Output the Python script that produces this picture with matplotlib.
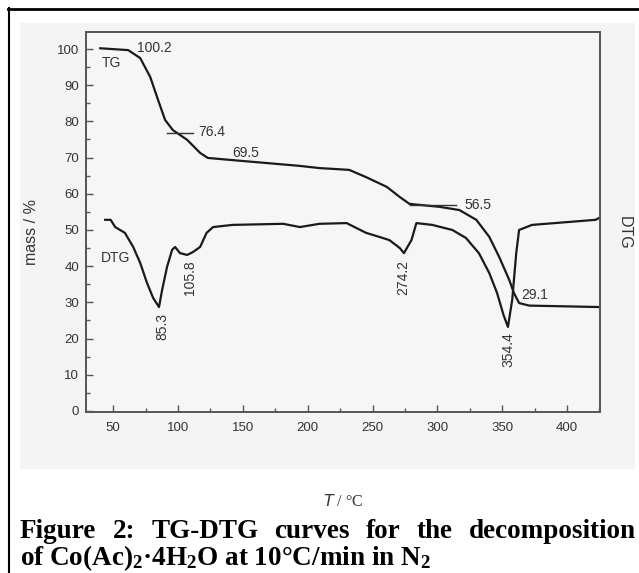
import matplotlib
matplotlib.use("Agg")
import matplotlib.pyplot as plt
from matplotlib.lines import Line2D
from matplotlib.patches import Rectangle
from matplotlib.ticker import MultipleLocator

# TG curve (mass %)
tg_temp = [40, 61.5, 70.8, 78.5, 84.6, 90, 96, 107, 117, 123, 142, 168, 194, 209,
           232, 245, 261, 271, 278.5, 301.5, 317, 330, 340, 347.7, 355.4, 359, 363,
           370.8, 425]
tg_mass = [100.2, 99.7, 97.5, 92.3, 85.9, 80.4, 77.6, 74.9, 71.3, 69.9, 69.3, 68.5, 67.7, 67.1,
           66.6, 64.6, 61.9, 59.1, 57.2, 56.4, 55.5, 52.8, 48.1, 42.5, 36.2, 32.6, 29.8,
           29.1, 28.7]

# DTG curve, drawn on the same scale
dtg_temp = [43.8, 48, 51.5, 59, 65.4, 70.8, 76, 80.8, 85.3, 87.7, 91.5, 95.4, 97.7, 101.5,
            107, 111.5, 117, 122, 127, 142, 181, 194, 209, 230, 245, 255, 263, 271,
            274.2, 280, 283.8, 296, 311.5, 322, 332, 340, 346, 351, 354.4, 357.7, 360.8,
            363, 373, 422, 424.6]
dtg_val = [52.8, 52.8, 50.8, 49.2, 45.3, 40.9, 35.4, 31.2, 28.7, 33.4, 39.8, 44.5, 45.3, 43.6,
           43.1, 43.9, 45.3, 49.2, 50.8, 51.4, 51.7, 50.8, 51.7, 51.9, 49.2, 48.1, 47.2, 45.0,
           43.6, 47.2, 51.9, 51.4, 50.0, 47.8, 43.6, 38.1, 32.6, 26.5, 23.2, 30.7, 43.6,
           50.0, 51.4, 52.8, 53.3]

# labelled points
tg_labels = ["100.2", "76.4", "69.5", "56.5", "29.1"]
tg_label_pos = [(68, 100.2), (115.5, 77.0), (142, 71.3), (321, 57.0), (365, 32.0)]
dtg_labels = ["85.3", "105.8", "274.2", "354.4"]
dtg_label_pos = [(87.7, 23.2), (109, 36.9), (274, 36.9), (354.6, 16.9)]

W, H = 639, 573
fig = plt.figure(figsize=(W / 100, H / 100), dpi=100)
fig.patch.set_facecolor("white")

# grey scan background and the page frame
fig.add_artist(Rectangle((20 / W, 1 - 469 / H), 615 / W, 446 / H, transform=fig.transFigure,
                         facecolor="#f4f4f4", edgecolor="none", zorder=0))
fig.add_artist(Line2D([8 / W, 1], [1 - 9 / H, 1 - 9 / H], transform=fig.transFigure,
                      color="black", lw=2))
fig.add_artist(Line2D([9 / W, 9 / W], [0, 1 - 8 / H], transform=fig.transFigure,
                      color="black", lw=1.5))

ax = fig.add_axes([86 / W, 1 - 412 / H, 514 / W, 380 / H])
ax.set_facecolor("#f6f6f6")
ink = "#333333"
ax.plot(tg_temp, tg_mass, color="#1a1a1a", lw=1.6)
ax.plot(dtg_temp, dtg_val, color="#1a1a1a", lw=1.6)

ax.set_xlim(29, 425.4)
ax.set_ylim(-0.3, 104.7)
ax.xaxis.set_major_locator(MultipleLocator(50))
ax.xaxis.set_minor_locator(MultipleLocator(25))
ax.yaxis.set_major_locator(MultipleLocator(10))
ax.yaxis.set_minor_locator(MultipleLocator(5))
ax.tick_params(which="both", direction="in", colors="#555555", labelcolor=ink,
               labelsize=9.5, width=1)
ax.tick_params(which="major", length=5)
ax.tick_params(which="minor", length=3)
ax.tick_params(axis="y", pad=5)
ax.tick_params(axis="x", pad=7)
for sp in ax.spines.values():
    sp.set_color("#555555")
    sp.set_linewidth(1.4)
for lab in ax.get_xticklabels() + ax.get_yticklabels():
    lab.set_family("Liberation Sans")

txt = dict(color=ink, fontsize=10, family="Liberation Sans")
ax.text(41.5, 96, "TG", va="center", ha="left", **txt)
ax.text(40.5, 42.3, "DTG", va="center", ha="left", **txt)
for s, (x, y) in zip(tg_labels, tg_label_pos):
    ax.text(x, y, s, va="center", ha="left", **txt)
ax.plot([91.5, 111.5], [76.8, 76.8], color="#333333", lw=1)
ax.plot([278.5, 314], [56.9, 56.9], color="#333333", lw=1)
for s, (x, y) in zip(dtg_labels, dtg_label_pos):
    ax.text(x, y, s, va="center", ha="center", rotation=90, **txt)

fig.text(32 / W, 1 - 232 / H, "mass / %", rotation=90, va="center", ha="center",
         color=ink, fontsize=11.5, family="Liberation Sans")
fig.text(624 / W, 1 - 233 / H, "DTG", rotation=-90, va="center", ha="center",
         color=ink, fontsize=11.5, family="Liberation Sans")
fig.text(343 / W, 1 - 502 / H, r"$T$ / °C", va="center", ha="center",
         color=ink, fontsize=11.5, family="Liberation Serif")

# caption, first line justified across the box
plt.rcParams["mathtext.fontset"] = "custom"
plt.rcParams["mathtext.rm"] = "Liberation Serif:bold"
plt.rcParams["mathtext.bf"] = "Liberation Serif:bold"
plt.rcParams["mathtext.it"] = "Liberation Serif:bold"
cap = dict(fontsize=19.5, family="Liberation Serif", weight="bold", color="black")
words = "Figure 2: TG-DTG curves for the decomposition".split()
r = fig.canvas.get_renderer()
objs = [fig.text(0, 1 - 532 / H, w, va="center", ha="left", **cap) for w in words]
widths = [o.get_window_extent(r).width for o in objs]
x0, x1 = 20, 636
gap = (x1 - x0 - sum(widths)) / (len(words) - 1)
x = x0
for o, wd in zip(objs, widths):
    o.set_x(x / W)
    x += wd + gap
fig.text(20 / W, 1 - 558 / H, r"of Co(Ac)$_{2}$·4H$_{2}$O at 10°C/min in N$_{2}$",
         va="center", ha="left", **cap)

fig.savefig("out.png", dpi=100)
